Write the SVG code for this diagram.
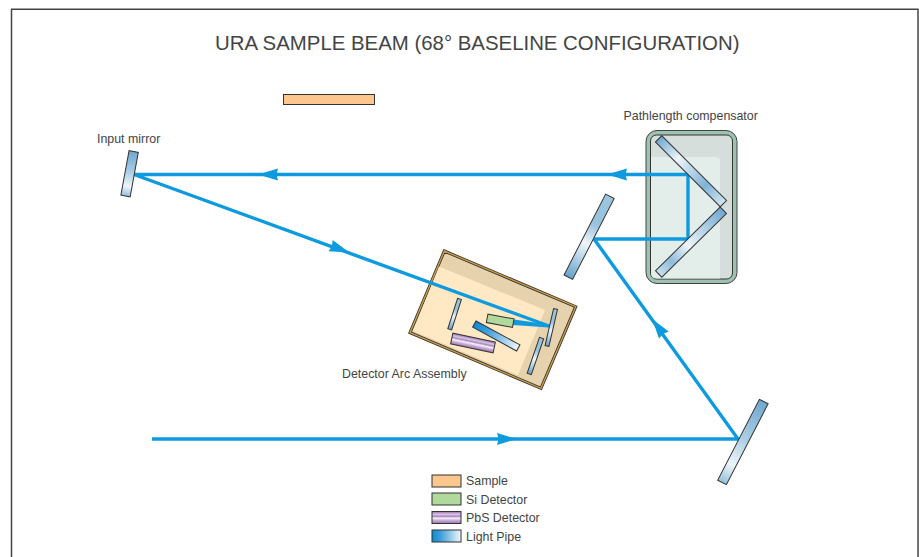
<svg xmlns="http://www.w3.org/2000/svg" xmlns:xlink="http://www.w3.org/1999/xlink" width="919" height="557" viewBox="0 0 919 557">
<style>
text{font-family:"Liberation Sans",Arial,sans-serif;fill:#444}
.lbl{font-size:12.4px}
.title{font-size:20.400px}
.part{stroke:#333;stroke-width:1}
.beam{fill:none;stroke:#0d9ade;stroke-width:3.400}
.head{fill:#0d9ade}
</style>
<defs>
<linearGradient id="m1"><stop offset="0" stop-color="#6fa8cf"/><stop offset=".45" stop-color="#a9cde3"/><stop offset=".78" stop-color="#eef5fa"/><stop offset="1" stop-color="#94bfdb"/></linearGradient>
<linearGradient id="m2"><stop offset="0" stop-color="#9cc5df"/><stop offset=".35" stop-color="#98c2dd"/><stop offset=".58" stop-color="#f0f6fa"/><stop offset="1" stop-color="#65a2ca"/></linearGradient>
<linearGradient id="m3"><stop offset="0" stop-color="#6fa8cf"/><stop offset=".3" stop-color="#eef5fa"/><stop offset=".72" stop-color="#7fb2d6"/><stop offset="1" stop-color="#d6e6f1"/></linearGradient>
<linearGradient id="m4"><stop offset="0" stop-color="#6fa8cf"/><stop offset=".55" stop-color="#eef5fa"/><stop offset=".8" stop-color="#8fbcda"/><stop offset="1" stop-color="#c8deec"/></linearGradient>
<linearGradient id="pipe"><stop offset="0" stop-color="#0a8ad6"/><stop offset=".3" stop-color="#3f9fdb"/><stop offset="1" stop-color="#f2f8fc"/></linearGradient>
<linearGradient id="pbs" x1="0" y1="0" x2="0" y2="1"><stop offset="0" stop-color="#9a74b2"/><stop offset=".25" stop-color="#d9c5e2"/><stop offset=".4" stop-color="#a885bd"/><stop offset=".55" stop-color="#f8f2fa"/><stop offset=".75" stop-color="#c7abd4"/><stop offset="1" stop-color="#9a74b2"/></linearGradient>
<polygon id="arrow" class="head" points="10,0 -10,-6 -8.500,0 -10,6"/>
</defs>
<rect width="919" height="557" fill="#fff"/>
<path d="M11.500 557V9.200H918V557" fill="none" stroke="#444" stroke-width="1.500"/>
<text class="title" x="215" y="49.500">URA SAMPLE BEAM (68° BASELINE CONFIGURATION)</text>
<g id="sample"><rect class="part" x="283.500" y="94.500" width="91" height="10" fill="#fbc78d"/></g>
<g id="compensator-body">
<rect x="646" y="130.500" width="91" height="153" rx="11" fill="#9dc2b0" stroke="#444" stroke-width="1"/>
<rect x="650.500" y="135" width="82" height="144" rx="6" fill="#d5dedb" stroke="#333" stroke-width="1"/>
<path d="M651 157H716Q720 157 720 161V278.500H657Q651 278.500 651 273Z" fill="#e3eeea"/>
<text class="lbl" x="623.500" y="120">Pathlength compensator</text>
</g>
<g id="detector-arc">
<polygon points="444.300,251 575.700,306.700 541,388.300 410,332.700" fill="#e6d3ae" stroke="#333" stroke-width="3"/>
<polygon points="444.300,251 575.700,306.700 541,388.300 410,332.700" fill="none" stroke="#c89b48" stroke-width="1.400"/>
<polygon points="439,266.500 545,310 518,375 413,331" fill="#ffe8c4"/>
<text class="lbl" x="342" y="378">Detector Arc Assembly</text>
</g>
<g id="connectors">
<polyline class="beam" points="152,439 738,439 594,239 688,239 688,174.500 134,174.500 549,326"/>
<polygon class="head" points="514,319.500 549,324.500 549,327.500 513,325"/>
<use xlink:href="#arrow" transform="translate(507,439)"/>
<use xlink:href="#arrow" transform="translate(268,174.500) rotate(180)"/>
<use xlink:href="#arrow" transform="translate(617,174.500) rotate(180)"/>
<use xlink:href="#arrow" transform="translate(658,327) rotate(234)"/>
<use xlink:href="#arrow" transform="translate(340,249) rotate(20)"/>
</g>
<g id="input-mirror">
<rect class="part" x="-22.600" y="-4.700" width="45.200" height="9.400" fill="url(#m1)" transform="translate(129.600 173.750) rotate(100.400)"/>
<text class="lbl" x="97" y="143">Input mirror</text>
</g>
<g id="steering-mirror"><rect class="part" x="-45.500" y="-4.800" width="91" height="9.600" fill="url(#m2)" transform="translate(589.100 236.750) rotate(117.200)"/></g>
<g id="fold-mirror"><rect class="part" x="-45.500" y="-4.900" width="91" height="9.800" fill="url(#m1)" transform="translate(742.900 442) rotate(117.300)"/></g>
<g id="compensator-mirror-upper"><rect class="part" x="-45.800" y="-4.500" width="91.600" height="9" fill="url(#m3)" transform="translate(691 171.250) rotate(45)"/></g>
<g id="compensator-mirror-lower"><rect class="part" x="-45.400" y="-4.500" width="90.800" height="9" fill="url(#m4)" transform="translate(691 242.150) rotate(135.400)"/></g>
<g id="detector-mirror-a"><rect class="part" x="-16" y="-2" width="32" height="4" fill="url(#m2)" transform="translate(454.600 314.100) rotate(107.800)"/></g>
<g id="detector-mirror-b"><rect class="part" x="-19" y="-2" width="38" height="4" fill="url(#m2)" transform="translate(551.250 327.500) rotate(103)"/></g>
<g id="detector-mirror-c"><rect class="part" x="-19" y="-2.200" width="38" height="4.400" fill="url(#m2)" transform="translate(535.400 356) rotate(109)"/></g>
<g id="si-detector"><rect class="part" x="-13.300" y="-4.300" width="26.600" height="8.600" fill="#b0d99c" transform="translate(500.200 320.700) rotate(10.500)"/></g>
<g id="pbs-detector"><rect class="part" x="-21.700" y="-5.500" width="43.400" height="11" fill="url(#pbs)" transform="translate(473 343) rotate(11.800)"/></g>
<g id="light-pipe"><rect class="part" x="-25" y="-3.500" width="50" height="7" fill="url(#pipe)" transform="translate(496.300 336) rotate(28.500)"/></g>
<g id="legend">
<rect class="part" x="432" y="475" width="29" height="12" fill="#fbc78d"/><text class="lbl" x="466" y="485">Sample</text>
<rect class="part" x="432" y="493" width="29" height="12" fill="#b0d99c"/><text class="lbl" x="466" y="504">Si Detector</text>
<rect class="part" x="432" y="511.500" width="29" height="12" fill="url(#pbs)"/><text class="lbl" x="466" y="522">PbS Detector</text>
<rect class="part" x="432" y="530" width="29" height="12" fill="url(#pipe)"/><text class="lbl" x="466" y="541">Light Pipe</text>
</g>
</svg>
